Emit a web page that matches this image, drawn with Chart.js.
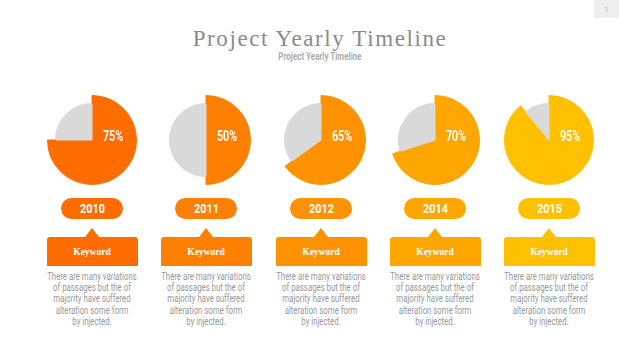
<!DOCTYPE html>
<html>
<head>
<meta charset="utf-8">
<script src="https://cdn.jsdelivr.net/npm/chart.js@4.4.1/dist/chart.umd.min.js"></script>
<style>
  body { margin: 0; background: #fff; }
  #page { position: relative; width: 640px; height: 360px; overflow: hidden; font-family: Roboto, sans-serif; }
  .abs { position: absolute; }
  .title { left: 0; width: 640px; top: 25px; text-align: center; font-family: "Liberation Serif", serif; font-size: 23px; letter-spacing: 1.6px; color: #8a8a8a; line-height: 28px; }
  .subtitle { left: 0; width: 640px; top: 50px; text-align: center; font-size: 10px; font-weight: bold; color: #ababab; transform: scaleX(0.8); line-height: 14px; }
  .pagebox { left: 594px; top: 0; width: 25px; height: 18px; background: #eeeeee; color: #b0b0b0; font-size: 7px; text-align: center; line-height: 20px; }
  .pill { width: 62px; height: 21px; border-radius: 11px; color: #fff; text-align: center; }
  .pill span { display: inline-block; font-weight: bold; font-size: 13.5px; line-height: 21px; transform: scaleX(0.8); }
  .notch { width: 0; height: 0; border-left: 7px solid transparent; border-right: 7px solid transparent; }
  .box { width: 91px; height: 29px; border-radius: 3px 3px 0 0; color: #fff; text-align: center; font-family: "Liberation Serif", serif; font-weight: bold; font-size: 9.5px; line-height: 31px; }
  .desc { width: 130px; text-align: center; color: #96989c; font-size: 10px; line-height: 11.2px; transform: scaleX(0.78); }
</style>
</head>
<body>
<div id="page">
  <div class="abs title">Project Yearly Timeline</div>
  <div class="abs subtitle">Project Yearly Timeline</div>
  <div class="abs pagebox">1</div>
</div>
<script>
const years         = ['2010', '2011', '2012', '2014', '2015'];
const percentLabels = ['75%', '50%', '65%', '70%', '95%'];
const sliceValues   = [75, 50, 65, 70, 89];
const keywords      = ['Keyword', 'Keyword', 'Keyword', 'Keyword', 'Keyword'];
const descLines     = [
  'There are many variations',
  'of passages but the of',
  'majority have suffered',
  'alteration some form',
  'by injected.'
];

const colors    = ['#ff6d00', '#ff7f00', '#ff9200', '#ffa600', '#ffc000'];
const greyColor = '#d9d9d9';
const centersX  = [92, 206, 321, 435, 549];
const pieCenterY = 140;
const pieRadius  = 45;

const page = document.getElementById('page');

function addEl(cls, left, top, styles, html) {
  const el = document.createElement('div');
  el.className = 'abs ' + cls;
  el.style.left = left + 'px';
  el.style.top  = top + 'px';
  Object.assign(el.style, styles || {});
  if (html) el.innerHTML = html;
  page.appendChild(el);
  return el;
}

const labelPlugin = {
  id: 'pctLabel',
  afterDraw: function (chart) {
    const ctx  = chart.ctx;
    const area = chart.chartArea;
    const cx = (area.left + area.right) / 2;
    const cy = (area.top + area.bottom) / 2;
    const text = chart.options.plugins.pctLabel.text;

    ctx.save();
    ctx.translate(cx + 21, cy - 3);
    ctx.scale(0.74, 1);
    ctx.font = 'bold 14.5px Roboto';
    ctx.fillStyle = '#ffffff';
    ctx.textAlign = 'center';
    ctx.textBaseline = 'middle';
    ctx.fillText(text, 0, 0);
    ctx.restore();
  }
};

function drawPie(i) {
  const cx = centersX[i];
  const holder = addEl('', cx - pieRadius, pieCenterY - pieRadius,
    { width: pieRadius * 2 + 'px', height: pieRadius * 2 + 'px' });
  const canvas = document.createElement('canvas');
  canvas.width  = pieRadius * 2;
  canvas.height = pieRadius * 2;
  holder.appendChild(canvas);

  const v = sliceValues[i];
  const c = colors[i];

  return new Chart(canvas, {
    type: 'pie',
    data: {
      labels: [years[i], ''],
      datasets: [{
        // outer ring: only the coloured slice reaches the full radius
        data: [v, 100 - v],
        backgroundColor: [c, 'rgba(0,0,0,0)'],
        borderColor: [c, 'rgba(0,0,0,0)'],
        borderWidth: 1,
        weight: 8
      }, {
        data: [v, 100 - v],
        backgroundColor: [c, greyColor],
        borderColor: [c, greyColor],
        borderWidth: 1,
        weight: 37
      }]
    },
    options: {
      responsive: false,
      animation: false,
      events: [],
      layout: { padding: 0 },
      plugins: {
        legend: { display: false },
        tooltip: { enabled: false },
        pctLabel: { text: percentLabels[i] }
      }
    },
    plugins: [labelPlugin]
  });
}

years.forEach((year, i) => {
  const cx = centersX[i];
  const c  = colors[i];

  drawPie(i);

  addEl('pill', cx - 31, 198, { background: c }, '<span>' + year + '</span>');
  addEl('notch', cx - 7, 228, { borderBottom: '9px solid ' + c });
  addEl('box', cx - 45.5, 237, { background: c }, keywords[i]);
  addEl('desc', cx - 65, 271, {}, descLines.join('<br>'));
});
</script>
</body>
</html>
